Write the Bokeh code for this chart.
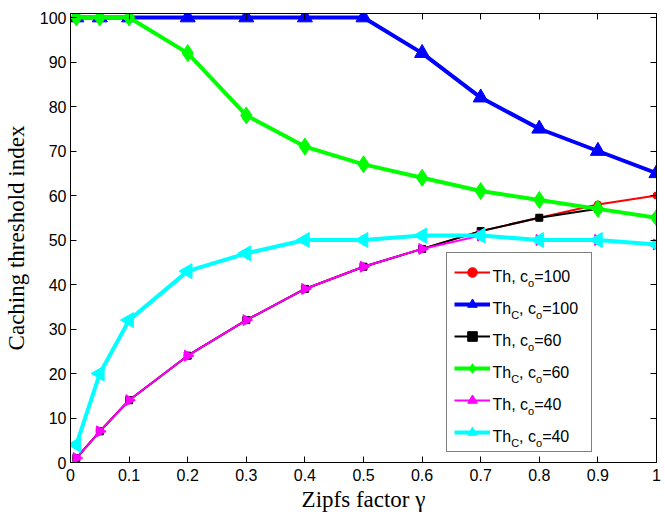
import math
from bokeh.plotting import figure
from bokeh.models import (Range1d, FixedTicker, LinearAxis, Legend, LegendItem,
                          Label, CustomJSTickFormatter)
from bokeh.embed import file_html
from bokeh.resources import INLINE

# ---------------- data ----------------
x_values = [0.01, 0.05, 0.1, 0.2, 0.3, 0.4, 0.5, 0.6, 0.7, 0.8, 0.9, 1.0]
th_c100 = [1, 7, 14, 24, 32, 39, 44, 48, 52, 55, 58, 60]
thc_c100 = [100, 100, 100, 100, 100, 100, 100, 92, 82, 75, 70, 65]
th_c60 = [1, 7, 14, 24, 32, 39, 44, 48, 52, 55, 57, 55]
thc_c60 = [100, 100, 100, 92, 78, 71, 67, 64, 61, 59, 57, 55]
th_c40 = [1, 7, 14, 24, 32, 39, 44, 48, 51, 50, 50, 49]
thc_c40 = [4, 20, 32, 43, 47, 50, 50, 51, 51, 50, 50, 49]

x_ticks = [0, 0.1, 0.2, 0.3, 0.4, 0.5, 0.6, 0.7, 0.8, 0.9, 1.0]
x_tick_labels = ["0", "0.1", "0.2", "0.3", "0.4", "0.5", "0.6", "0.7", "0.8", "0.9", "1"]
y_ticks = [0, 10, 20, 30, 40, 50, 60, 70, 80, 90, 100]

x_label = "Zipfs factor γ"
y_label = "Caching threshold index"

# legend text pieces: (base name, subscript after name or None, c_o value)
legend_names = ["Th", "Th", "Th", "Th", "Th", "Th"]
legend_subs = [None, "C", None, "C", None, "C"]
legend_co = ["100", "100", "60", "60", "40", "40"]

series = [th_c100, thc_c100, th_c60, thc_c60, th_c40, thc_c40]

# ---------------- styles ----------------
styles = [
    dict(color="#ff0000", lw=2, marker="circle", size=7, angle=0.0),
    dict(color="#0000ff", lw=4, marker="triangle", size=15, angle=0.0),
    dict(color="#000000", lw=2, marker="square", size=7, angle=0.0),
    dict(color="#00ff00", lw=4, marker="diamond", size=17, angle=0.0),
    dict(color="#ff00ff", lw=2, marker="triangle", size=11, angle=-math.pi / 2),
    dict(color="#00ffff", lw=4, marker="triangle", size=15, angle=math.pi / 2),
]

W, H = 665, 515
FL, FR, FT, FB = 70, 656, 13, 462  # frame edges in canvas px

p = figure(width=W, height=H, x_range=Range1d(0, 1), y_range=Range1d(0, 100.9),
           output_backend="svg", toolbar_location=None,
           min_border_left=FL, min_border_right=W - FR,
           min_border_top=FT, min_border_bottom=H - FB)
p.xgrid.visible = False
p.ygrid.visible = False
p.outline_line_color = "black"
p.outline_line_width = 1
p.background_fill_color = "white"
p.border_fill_color = "white"

tick_font = "Liberation Sans"
label_font = "Liberation Serif"

for ax in (p.xaxis[0], p.yaxis[0]):
    ax.axis_line_color = "black"
    ax.major_tick_line_color = "black"
    ax.major_tick_in = 6
    ax.major_tick_out = 0
    ax.minor_tick_in = 0
    ax.minor_tick_out = 0
    ax.major_label_text_font = tick_font
    ax.major_label_text_font_size = "16px"
    ax.major_label_text_color = "black"
    ax.axis_label_text_font = label_font
    ax.axis_label_text_font_size = "23px"
    ax.axis_label_text_font_style = "normal"
    ax.axis_label_text_color = "black"

p.xaxis[0].ticker = FixedTicker(ticks=x_ticks)
p.xaxis[0].major_label_overrides = {t: l for t, l in zip(x_ticks, x_tick_labels)}
p.xaxis[0].major_label_standoff = 6
p.xaxis[0].axis_label = x_label
p.xaxis[0].axis_label_standoff = 3

p.yaxis[0].ticker = FixedTicker(ticks=y_ticks)
p.yaxis[0].major_label_standoff = 4
p.yaxis[0].axis_label = y_label
p.yaxis[0].axis_label_standoff = 8

empty_fmt = CustomJSTickFormatter(code="return ''")
top_ax = LinearAxis(ticker=FixedTicker(ticks=x_ticks), formatter=empty_fmt,
                    major_tick_in=6, major_tick_out=0, minor_tick_in=0, minor_tick_out=0,
                    major_label_standoff=0, axis_line_color="black",
                    major_label_text_font_size="1px")
right_ax = LinearAxis(ticker=FixedTicker(ticks=y_ticks), formatter=empty_fmt,
                      major_tick_in=6, major_tick_out=0, minor_tick_in=0, minor_tick_out=0,
                      major_label_standoff=0, axis_line_color="black",
                      major_label_text_font_size="1px")
p.add_layout(top_ax, "above")
p.add_layout(right_ax, "right")

items = []
for ys, st in zip(series, styles):
    lr = p.line(x_values, ys, line_color=st["color"], line_width=st["lw"])
    sr = p.scatter(x_values, ys, marker=st["marker"], size=st["size"], angle=st["angle"],
                   fill_color=st["color"], line_color=st["color"], line_width=1)
    items.append(LegendItem(label=" ", renderers=[lr, sr]))

# ---------------- legend geometry ----------------
LEG_L, LEG_T = 446, 254
PAD, GLYPH_W, GLYPH_H, STANDOFF, SPACING, LABEL_W = 7, 36, 24, 3, 8, 91
n = len(items)
leg_h = 2 * PAD + n * GLYPH_H + (n - 1) * SPACING

legend = Legend(items=items, location=(LEG_L - FL, FB - (LEG_T + leg_h)),
                padding=PAD, margin=0, spacing=SPACING, glyph_width=GLYPH_W,
                glyph_height=GLYPH_H, label_height=GLYPH_H, label_width=LABEL_W,
                label_standoff=STANDOFF, border_line_color="black", border_line_width=1,
                background_fill_color="white", background_fill_alpha=0.0,
                label_text_font=tick_font, label_text_font_size="16px")
p.add_layout(legend, "center")

# text with subscripts drawn as label pieces
ARIAL = {"T": 0.611, "h": 0.556, ",": 0.278, " ": 0.278, "c": 0.5, "o": 0.556,
         "=": 0.584, "C": 0.722, "0": 0.556, "1": 0.556, "4": 0.556, "6": 0.556}


def tw(s, fs):
    return sum(ARIAL.get(ch, 0.556) for ch in s) * fs


MAIN_FS, SUB_FS, SUB_DROP = 16, 11, 6.5
text_x0 = LEG_L + PAD + GLYPH_W + STANDOFF
for i in range(n):
    center = LEG_T + PAD + GLYPH_H / 2 + i * (GLYPH_H + SPACING)
    base = center + 2.5
    pieces = [(legend_names[i], False)]
    if legend_subs[i]:
        pieces.append((legend_subs[i], True))
    pieces += [(", c", False), ("o", True), ("=" + legend_co[i], False)]
    x = text_x0
    for txt, sub in pieces:
        fs = SUB_FS if sub else MAIN_FS
        yb = base + (SUB_DROP if sub else 0)
        p.add_layout(Label(x=x - FL, y=FB - yb, x_units="screen", y_units="screen",
                           text=txt, text_font=tick_font, text_font_size=f"{fs}px",
                           text_color="black", text_baseline="alphabetic",
                           text_align="left"), "center")
        x += tw(txt, fs)

open("out.html", "w").write(file_html(p, INLINE))
